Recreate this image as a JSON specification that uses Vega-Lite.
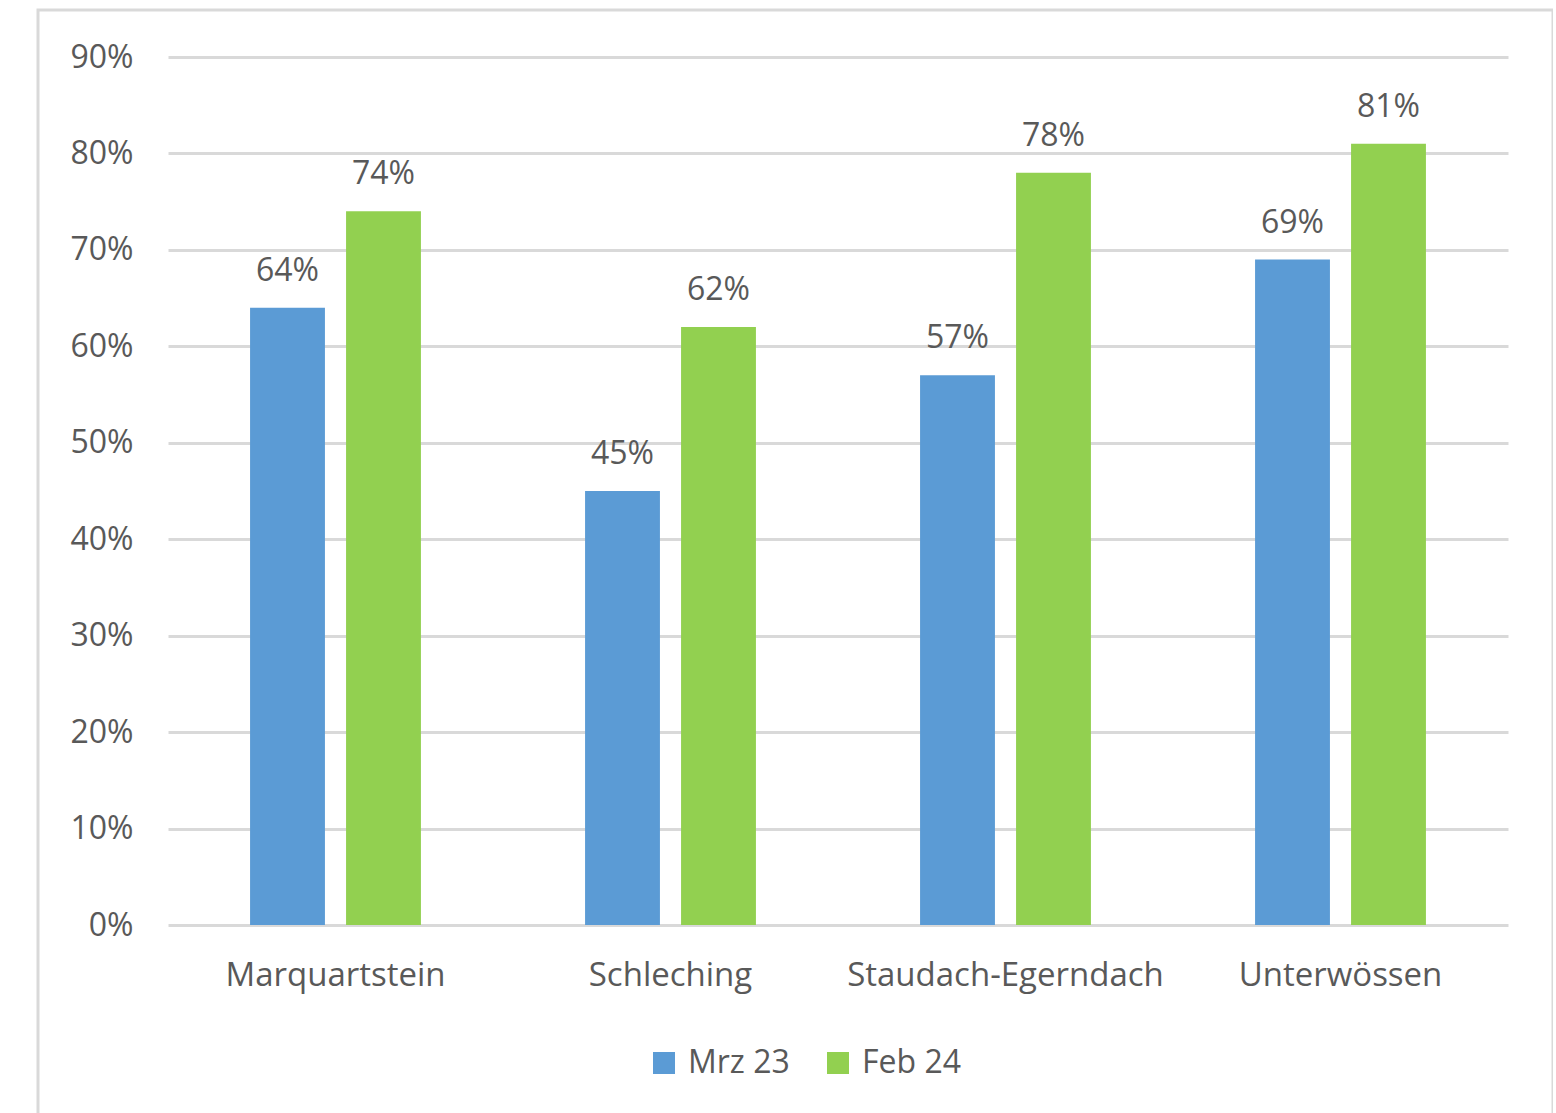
{
  "$schema": "https://vega.github.io/schema/vega-lite/v6.json",
  "width": 1515,
  "height": 1110,
  "autosize": {"type": "none"},
  "padding": {"left": 38, "top": 10, "right": 0, "bottom": 0},
  "background": "white",
  "config": {
    "view": {"stroke": "#d9d9d9", "strokeWidth": 3},
    "font": "Open Sans"
  },
  "data": {
    "values": [
      {"ort": "Marquartstein", "zeit": "Mrz 23", "wert": 0.64},
      {"ort": "Marquartstein", "zeit": "Feb 24", "wert": 0.74},
      {"ort": "Schleching", "zeit": "Mrz 23", "wert": 0.45},
      {"ort": "Schleching", "zeit": "Feb 24", "wert": 0.62},
      {"ort": "Staudach-Egerndach", "zeit": "Mrz 23", "wert": 0.57},
      {"ort": "Staudach-Egerndach", "zeit": "Feb 24", "wert": 0.78},
      {"ort": "Unterwössen", "zeit": "Mrz 23", "wert": 0.69},
      {"ort": "Unterwössen", "zeit": "Feb 24", "wert": 0.81}
    ]
  },
  "encoding": {
    "x": {
      "field": "ort", "type": "nominal", "sort": null,
      "scale": {"range": [130, 1470], "paddingInner": 0, "paddingOuter": 0},
      "axis": {"title": null, "labelAngle": 0, "domain": false, "ticks": false, "offset": -195, "labelPadding": 60, "labelFontSize": 33, "labelColor": "#595959", "labelBaseline": "alphabetic", "labelLimit": 0}
    },
    "xOffset": {
      "field": "zeit", "type": "nominal", "sort": ["Mrz 23", "Feb 24"],
      "scale": {"paddingInner": 0.22, "paddingOuter": 0.855}
    },
    "y": {
      "field": "wert", "type": "quantitative",
      "scale": {"domain": [0, 0.9], "range": [915, 47], "nice": false},
      "axis": {"title": null, "format": ".0%", "values": [0,0.1,0.2,0.3,0.4,0.5,0.6,0.7,0.8,0.9], "domain": false, "ticks": false, "offset": -95, "labelPadding": 0, "labelFontSize": 32, "labelColor": "#595959", "gridColor": "#d9d9d9", "gridWidth": 3}
    }
  },
  "layer": [
    {
      "mark": {"type": "bar"},
      "encoding": {
        "color": {
          "field": "zeit", "type": "nominal", "sort": ["Mrz 23", "Feb 24"],
          "scale": {"domain": ["Mrz 23", "Feb 24"], "range": ["#5b9bd5", "#92d050"]},
          "legend": {"title": null, "orient": "none", "direction": "horizontal", "legendX": 610, "legendY": 1037, "symbolType": "square", "symbolSize": 484, "symbolStrokeWidth": 0, "labelFontSize": 32, "labelColor": "#595959", "columnPadding": 32, "labelOffset": 8}
        }
      }
    },
    {
      "mark": {"type": "text", "baseline": "alphabetic", "dy": -27, "fontSize": 32, "color": "#595959"},
      "encoding": {
        "text": {"field": "wert", "type": "quantitative", "format": ".0%"}
      }
    }
  ]
}
